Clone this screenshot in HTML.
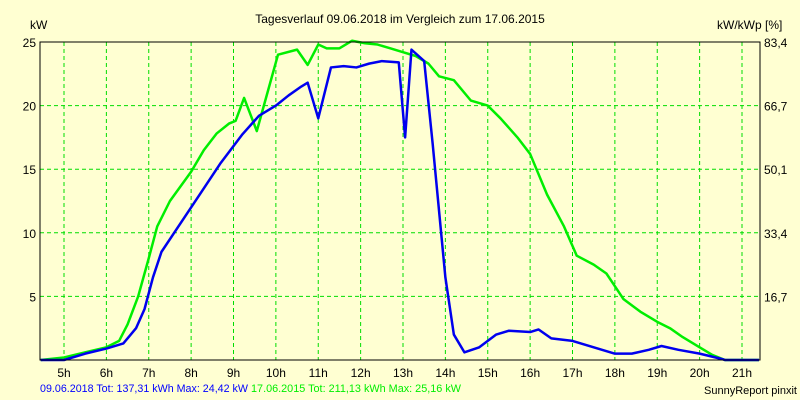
<!DOCTYPE html>
<html><head><meta charset="utf-8"><style>
body{margin:0;background:#ffffd2;}
svg{display:block;font-family:"Liberation Sans",sans-serif;}
</style></head><body>
<svg id="c" width="800" height="400">
<rect width="800" height="400" fill="#ffffd2"/>
<text x="400" y="23" font-size="12" text-anchor="middle">Tagesverlauf 09.06.2018 im Vergleich zum 17.06.2015</text>
<text x="30" y="29" font-size="12">kW</text>
<text x="717" y="29" font-size="12">kW/kWp [%]</text>
<g id="grid"></g><g id="series"></g><g id="axes"></g>
<text x="40" y="392" font-size="11" fill="#0000ff" textLength="208" lengthAdjust="spacingAndGlyphs">09.06.2018 Tot: 137,31 kWh Max: 24,42 kW</text>
<text x="251" y="392" font-size="11" fill="#00ee00" textLength="210" lengthAdjust="spacingAndGlyphs">17.06.2015 Tot: 211,13 kWh Max: 25,16 kW</text>
<text x="797" y="394" font-size="11" text-anchor="end">SunnyReport pinxit</text>
</svg>
<script>
const hourTicks=[5,6,7,8,9,10,11,12,13,14,15,16,17,18,19,20,21];
const yTicks=[5,10,15,20,25];
const y2Labels=["16,7","33,4","50,1","66,7","83,4"];
const green2015T=[4.45,5,5.5,6,6.3,6.5,6.75,7,7.2,7.5,8,8.3,8.6,8.9,9.05,9.25,9.55,9.8,10.05,10.5,10.75,11,11.2,11.5,11.8,12.1,12.4,12.7,13,13.3,13.6,13.85,14.2,14.6,15,15.3,15.7,16,16.4,16.8,17.1,17.5,17.8,18,18.2,18.6,19,19.3,19.6,20,20.3,20.6,21.4];
const green2015V=[0,0.2,0.6,1.0,1.5,2.8,5,8,10.5,12.5,14.8,16.5,17.8,18.6,18.8,20.6,18.0,21,24,24.4,23.2,24.8,24.5,24.5,25.1,24.9,24.8,24.5,24.2,23.9,23.3,22.3,22.0,20.4,20,19,17.5,16.2,13,10.5,8.2,7.5,6.8,5.8,4.8,3.8,3.0,2.5,1.8,1.0,0.4,0,0];
const blue2018T=[4.45,5,5.5,6,6.4,6.7,6.9,7.1,7.3,7.7,8.2,8.7,9.2,9.6,10,10.3,10.6,10.75,11,11.3,11.6,11.9,12.2,12.5,12.9,13.05,13.2,13.5,13.7,14,14.2,14.45,14.8,15.2,15.5,16,16.2,16.5,17,17.5,18,18.4,18.8,19.1,19.5,20,20.5,20.6,21.4];
const blue2018V=[0,0,0.5,0.9,1.3,2.5,4,6.5,8.5,10.5,13,15.5,17.7,19.2,20,20.8,21.5,21.8,19,23,23.1,23,23.3,23.5,23.4,17.5,24.4,23.5,17,6.5,2,0.6,1.0,2.0,2.3,2.2,2.4,1.7,1.5,1.0,0.5,0.5,0.8,1.1,0.8,0.5,0.1,0,0];
const L=40,R=760,T=42,B=360;
const x=h=>64+(h-5)*42.375;
const y=v=>B-v*(B-T)/25;
const NS="http://www.w3.org/2000/svg";
function mk(tag,attrs,parent,txt){const e=document.createElementNS(NS,tag);for(const k in attrs)e.setAttribute(k,attrs[k]);if(txt!==undefined)e.textContent=txt;document.getElementById(parent).appendChild(e);return e;}
hourTicks.forEach(h=>{
  const l=mk('line',{x1:x(h),x2:x(h),y1:T,y2:B,stroke:'#00dd00','stroke-dasharray':'4,3','stroke-width':1},'grid');
  
  
  const t=mk('text',{x:x(h),y:377,'font-size':12,'text-anchor':'middle'},'axes',h+'h');
  
  
});
yTicks.forEach((v,i)=>{
  const l=mk('line',{x1:L,x2:R,y1:y(v),y2:y(v),stroke:'#00dd00','stroke-dasharray':'4,3','stroke-width':1},'grid');
  
  
  const t=mk('text',{x:36,y:y(v)+5,'font-size':12,'text-anchor':'end'},'axes',String(v));
  
  
  const t2=mk('text',{x:764,y:y(v)+5,'font-size':12},'axes',y2Labels[i]);
  
  
});
const fr=mk('rect',{x:L,y:T,width:R-L,height:B-T,fill:'none',stroke:'#000','stroke-width':1},'axes');


function line(ts,vs,col,name){
  const p=mk('polyline',{points:ts.map((t,i)=>x(t)+','+y(vs[i])).join(' '),fill:'none',stroke:col,'stroke-width':2.5,'stroke-linejoin':'round'},'series');
  
  
}
line(green2015T,green2015V,'#00ee00','line-2015');
line(blue2018T,blue2018V,'#0000ee','line-2018');
</script>
</body></html>
